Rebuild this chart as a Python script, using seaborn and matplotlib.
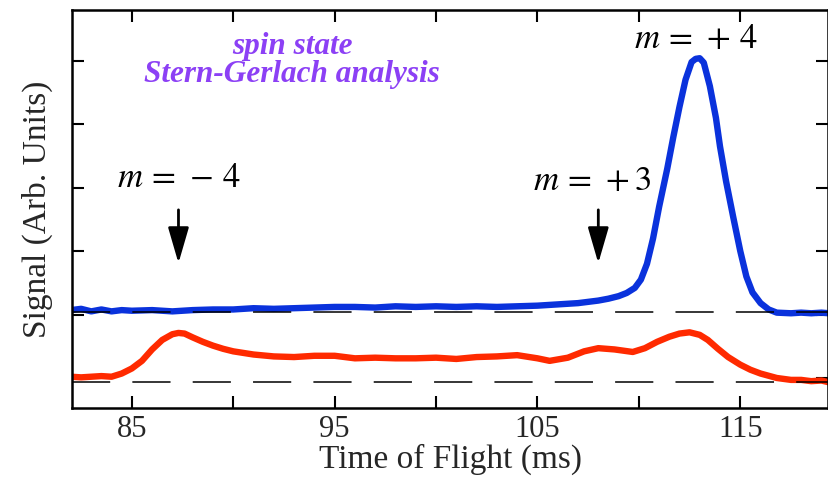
import numpy as np
import pandas as pd
import seaborn as sns
import matplotlib.pyplot as plt

# time of flight (ms) and signal, arbitrary units
blue_t = [82.0, 82.5, 83.0, 83.5, 84.0, 84.5, 85.0, 86.0, 87.0, 88.0, 89.0, 90.0,
          91.0, 92.0, 93.0, 94.0, 95.0, 96.0, 97.0, 98.0, 99.0, 100.0, 101.0, 102.0,
          103.0, 104.0, 105.0, 106.0, 107.0, 107.5, 108.0, 108.5, 109.0, 109.4, 109.8,
          110.1, 110.4, 110.7, 111.0, 111.4, 111.7, 112.0, 112.3, 112.6, 112.8, 113.0,
          113.2, 113.5, 113.8, 114.0, 114.3, 114.65, 115.0, 115.3, 115.6, 116.0, 116.4,
          116.8, 117.5, 118.0, 118.5, 119.0, 119.4]
blue_sig = [1.07, 1.09, 1.05, 1.08, 1.05, 1.07, 1.06, 1.07, 1.05, 1.07, 1.08, 1.08,
            1.10, 1.09, 1.10, 1.11, 1.12, 1.12, 1.11, 1.13, 1.12, 1.13, 1.12, 1.13,
            1.12, 1.13, 1.14, 1.16, 1.18, 1.20, 1.22, 1.25, 1.29, 1.34, 1.42,
            1.55, 1.80, 2.20, 2.70, 3.30, 3.80, 4.27, 4.70, 4.98, 5.03, 5.04,
            4.97, 4.60, 4.10, 3.65, 3.10, 2.54, 2.00, 1.60, 1.35, 1.18, 1.08,
            1.03, 1.02, 1.03, 1.02, 1.03, 1.02]

red_t = [82.0, 82.5, 83.0, 83.5, 84.0, 84.5, 85.0, 85.5, 86.0, 86.5, 87.0, 87.3,
         87.6, 88.0, 88.5, 89.0, 89.5, 90.0, 91.0, 92.0, 93.0, 94.0, 95.0, 96.0,
         97.0, 98.0, 99.0, 100.0, 101.0, 102.0, 103.0, 104.0, 105.0, 105.6, 106.5,
         107.3, 108.0, 108.8, 109.7, 110.3, 110.9, 111.5, 112.0, 112.5, 113.0, 113.4,
         113.9, 114.4, 115.0, 115.5, 116.0, 116.8, 117.5, 118.0, 118.5, 119.0, 119.4]
red_sig = [0.02, 0.01, 0.02, 0.03, 0.02, 0.07, 0.15, 0.27, 0.45, 0.60, 0.69, 0.71,
           0.70, 0.64, 0.57, 0.51, 0.46, 0.42, 0.37, 0.34, 0.33, 0.35, 0.35, 0.31,
           0.32, 0.31, 0.31, 0.32, 0.30, 0.33, 0.34, 0.36, 0.31, 0.27, 0.32,
           0.42, 0.47, 0.45, 0.41, 0.47, 0.57, 0.65, 0.70, 0.72, 0.68, 0.60,
           0.46, 0.33, 0.21, 0.13, 0.07, 0.00, -0.03, -0.03, -0.05, -0.04, -0.07]

blue_base = 1.04
red_base = -0.06

df = pd.concat([
    pd.DataFrame({"t": blue_t, "s": blue_sig, "trace": "blue"}),
    pd.DataFrame({"t": red_t, "s": red_sig, "trace": "red"}),
])

sns.set_style("ticks")
plt.rcParams['font.family'] = ['Liberation Serif', 'DejaVu Serif']
plt.rcParams['mathtext.fontset'] = 'stix'

fig = plt.figure(figsize=(8.29, 4.88), dpi=100)
ax = fig.add_axes([72 / 829, 80 / 488, 756.5 / 829, 398 / 488])

sns.lineplot(data=df, x="t", y="s", hue="trace", estimator=None, sort=False,
             palette={"blue": "#0a32dc", "red": "#ff2a00"}, lw=4.6, legend=False, ax=ax)

for b in [blue_base, red_base]:
    ax.axhline(b, color="k", lw=1.1, dashes=(25, 14.5), zorder=5)

ax.set_xlim(82.05, 119.35)
ax.set_ylim(-0.473, 5.80)
ax.set_xticks([85, 95, 105, 115])
ax.set_xticks([90, 100, 110], minor=True)
ax.set_yticks([0, 1, 2, 3, 4, 5])
ax.set_yticklabels([])
ax.tick_params(which="both", direction="in", length=8.5, width=1.5, top=True, right=True,
               labelsize=22, pad=5, color="k")
for sp in ax.spines.values():
    sp.set_linewidth(1.8)
    sp.set_color("k")

ax.set_xlabel("Time of Flight (ms)", fontsize=24, labelpad=0)
ax.set_ylabel("Signal (Arb. Units)", fontsize=24, labelpad=9)

ax.text(112.8, 5.33, r"$m\,=\,+\,4$", fontsize=25, ha="center", va="center", color="k")
ax.text(87.3, 3.15, r"$m\,=\,-\,4$", fontsize=25, ha="center", va="center", color="k")
ax.text(107.7, 3.09, r"$m\,=\,+3$", fontsize=25, ha="center", va="center", color="k")

for xa in [87.3, 108.0]:
    ax.annotate("", xy=(xa, 1.81), xytext=(xa, 2.65),
                arrowprops=dict(arrowstyle="-|>,head_length=1.1,head_width=0.32",
                                mutation_scale=20, lw=2, color="k",
                                shrinkA=0, shrinkB=0))

ax.text(92.9, 5.22, "spin state", fontsize=22.5, color="#8c40f5", fontweight="bold",
        style="italic", ha="center", va="center")
ax.text(92.9, 4.79, "Stern-Gerlach analysis", fontsize=22.5, color="#8c40f5",
        fontweight="bold", style="italic", ha="center", va="center")

fig.savefig("out.png", dpi=100)
